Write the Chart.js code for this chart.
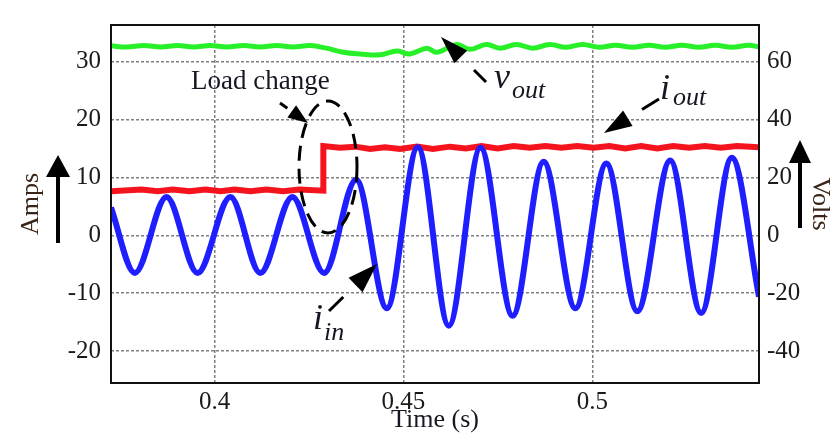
<!DOCTYPE html>
<html>
<head>
<meta charset="utf-8">
<script src="https://cdn.jsdelivr.net/npm/chart.js@4.4.1/dist/chart.umd.min.js"></script>
<style>
  html, body { margin: 0; padding: 0; background: #fff; }
</style>
</head>
<body>
<canvas id="loadStep" width="835" height="438"></canvas>
<script>
// input current i_in (A), peaks and troughs
const inTime = [0.3726, 0.3789, 0.3873, 0.3955, 0.4042, 0.4121, 0.4206, 0.4290, 0.4375, 0.4456, 0.4538,
  0.4620, 0.4704, 0.4789, 0.4871, 0.4955, 0.5037, 0.5119, 0.5206, 0.5288, 0.5369, 0.5441];
const iIn = [4.8, -6.5, 6.6, -6.5, 6.6, -6.5, 6.6, -6.5, 9.6, -12.6, 15.2,
  -15.6, 15.1, -13.9, 12.7, -12.6, 12.4, -13.1, 12.9, -13.4, 13.4, -10.6];

// output current i_out (A)
const outTime = [0.3726, 0.3807, 0.3850, 0.3889, 0.3934, 0.3976, 0.4016, 0.4053, 0.4095, 0.4137, 0.4182,
  0.4224, 0.4288, 0.4288, 0.4332, 0.4372, 0.4412, 0.4451, 0.4491, 0.4536, 0.4578, 0.4623, 0.4665, 0.4707,
  0.4749, 0.4792, 0.4834, 0.4876, 0.4918, 0.4960, 0.5003, 0.5045, 0.5087, 0.5129, 0.5172, 0.5214, 0.5256,
  0.5298, 0.5340, 0.5383, 0.5441];
const iOut = [7.6, 7.9, 7.6, 7.9, 7.6, 7.9, 7.6, 7.9, 7.6, 7.9, 7.6,
  7.9, 7.7, 15.4, 15.1, 15.3, 14.9, 15.2, 14.9, 15.3, 14.9, 15.3, 15.0, 15.4,
  15.0, 15.4, 15.1, 15.4, 15.1, 15.4, 15.1, 15.4, 15.0, 15.4, 15.0, 15.4, 15.1,
  15.4, 15.1, 15.4, 15.2];

// output voltage v_out (V)
const vTime = [0.3726, 0.3768, 0.3813, 0.3858, 0.3902, 0.3945, 0.3989, 0.4032, 0.4077, 0.4121, 0.4164,
  0.4208, 0.4253, 0.4296, 0.4340, 0.4385, 0.4438, 0.4483, 0.4517, 0.4562, 0.4588, 0.4641, 0.4675, 0.4720,
  0.4755, 0.4799, 0.4842, 0.4887, 0.4929, 0.4974, 0.5018, 0.5061, 0.5106, 0.5150, 0.5193, 0.5237, 0.5282,
  0.5325, 0.5369, 0.5414, 0.5441];
const vOut = [65.4, 65.0, 65.5, 65.0, 65.5, 65.0, 65.5, 65.0, 65.5, 65.0, 65.5,
  65.0, 65.5, 64.6, 63.2, 62.6, 62.3, 63.6, 62.6, 64.6, 63.2, 65.9, 64.2, 65.9,
  64.6, 65.9, 64.6, 65.9, 64.9, 65.9, 64.9, 65.6, 64.9, 65.6, 64.9, 65.6, 64.9,
  65.6, 64.9, 65.6, 65.0];

const timeTicks = [0.4, 0.45, 0.5];
const ampTicks = [-20, -10, 0, 10, 20, 30];
const voltTicks = [-40, -20, 0, 20, 40, 60];

const serif = "'Liberation Serif', 'Times New Roman', serif";
const ink = "#181622";

function pts(xs, ys) {
  return xs.map((x, i) => ({ x: x, y: ys[i] }));
}

function arrow(c, x1, y1, x2, y2, head, wid, dash) {
  const ang = Math.atan2(y2 - y1, x2 - x1);
  const bx = x2 - head * Math.cos(ang);
  const by = y2 - head * Math.sin(ang);
  c.setLineDash(dash);
  c.beginPath();
  c.moveTo(x1, y1);
  c.lineTo(bx, by);
  c.stroke();
  c.setLineDash([]);
  c.beginPath();
  c.moveTo(x2, y2);
  c.lineTo(bx + wid / 2 * Math.sin(ang), by - wid / 2 * Math.cos(ang));
  c.lineTo(bx - wid / 2 * Math.sin(ang), by + wid / 2 * Math.cos(ang));
  c.closePath();
  c.fill();
}

const notes = {
  id: "notes",
  afterDatasetsDraw(chart) {
    const c = chart.ctx;
    const a = chart.chartArea;
    c.save();
    // plot frame
    c.strokeStyle = "#111";
    c.lineWidth = 2;
    c.strokeRect(a.left, a.top, a.right - a.left, a.bottom - a.top);

    c.fillStyle = "#000";
    c.strokeStyle = "#000";
    // dashed ellipse round the step
    c.lineWidth = 3;
    c.setLineDash([15, 8]);
    c.beginPath();
    c.ellipse(328, 167, 29, 66, 0, 0, Math.PI * 2);
    c.stroke();

    // pointer arrows
    c.lineWidth = 3;
    arrow(c, 280, 103, 308, 123, 20, 15, [9, 100]);
    arrow(c, 486, 82, 441, 37, 28, 18, [17, 100]);
    arrow(c, 659, 99, 604, 133, 28, 18, [20, 100]);
    arrow(c, 329, 311, 377, 264, 30, 20, [20, 100]);

    // axis arrows
    c.lineWidth = 4;
    arrow(c, 58, 243, 58, 155, 22, 24, []);
    arrow(c, 800, 228, 800, 140, 23, 22, []);

    // labels
    c.fillStyle = ink;
    c.textBaseline = "alphabetic";
    c.textAlign = "left";
    c.font = "27px " + serif;
    c.fillText("Load change", 191, 89);
    c.font = "italic 36px " + serif;
    c.fillText("v", 494, 88);
    c.fillText("i", 660, 99);
    c.fillText("i", 313, 329);
    c.font = "italic 26px " + serif;
    c.fillText("out", 512, 98);
    c.fillText("out", 673, 105);
    c.fillText("in", 324, 340);
    c.restore();
  }
};

new Chart(document.getElementById("loadStep"), {
  type: "line",
  data: {
    datasets: [
      {
        label: "i_in",
        data: pts(inTime, iIn),
        yAxisID: "y",
        borderColor: "#1e1eff",
        borderWidth: 6,
        cubicInterpolationMode: "monotone",
        pointRadius: 0,
      },
      {
        label: "i_out",
        data: pts(outTime, iOut),
        yAxisID: "y",
        borderColor: "#f5141e",
        borderWidth: 6,
        tension: 0,
        pointRadius: 0,
      },
      {
        label: "v_out",
        data: pts(vTime, vOut),
        yAxisID: "y2",
        borderColor: "#28f028",
        borderWidth: 5,
        tension: 0.4,
        pointRadius: 0,
      },
    ],
  },
  options: {
    responsive: false,
    animation: false,
    layout: { padding: { top: 10 } },
    plugins: {
      legend: { display: false },
      tooltip: { enabled: false },
    },
    scales: {
      x: {
        type: "linear",
        min: 0.3726,
        max: 0.5441,
        afterBuildTicks: (s) => { s.ticks = timeTicks.map((v) => ({ value: v })); },
        afterFit: (s) => { s.height = 55; },
        ticks: {
          callback: (v) => String(v),
          color: "#1a1a1a",
          padding: 4,
          maxRotation: 0,
          font: { family: serif, size: 25 },
        },
        grid: { color: "#808080", lineWidth: 1.5, drawTicks: false },
        border: { display: false, dash: [3, 2] },
        title: {
          display: true,
          text: "Time (s)",
          color: ink,
          font: { family: serif, size: 26 },
          padding: { top: 0, bottom: 2 },
        },
      },
      y: {
        position: "left",
        min: -25.5,
        max: 36.3,
        afterBuildTicks: (s) => { s.ticks = ampTicks.map((v) => ({ value: v })); },
        afterFit: (s) => { s.width = 111; },
        ticks: {
          callback: (v) => String(v),
          color: "#1a1a1a",
          padding: 10,
          font: { family: serif, size: 25 },
        },
        grid: { color: "#808080", lineWidth: 1.5, drawTicks: false },
        border: { display: false, dash: [3, 2] },
        title: {
          display: true,
          text: "Amps",
          color: "#3a2418",
          font: { family: serif, size: 26 },
          padding: { top: 16, bottom: 0 },
        },
      },
      y2: {
        position: "right",
        min: -51,
        max: 72.6,
        afterBuildTicks: (s) => { s.ticks = voltTicks.map((v) => ({ value: v })); },
        afterFit: (s) => { s.width = 76; },
        ticks: {
          callback: (v) => String(v),
          color: "#1a1a1a",
          padding: 8,
          font: { family: serif, size: 25 },
        },
        grid: { drawOnChartArea: false, drawTicks: false },
        border: { display: false },
        title: {
          display: true,
          text: "Volts",
          color: "#3a2418",
          font: { family: serif, size: 26 },
          padding: { top: 0, bottom: 0 },
        },
      },
    },
  },
  plugins: [notes],
});
</script>
</body>
</html>
